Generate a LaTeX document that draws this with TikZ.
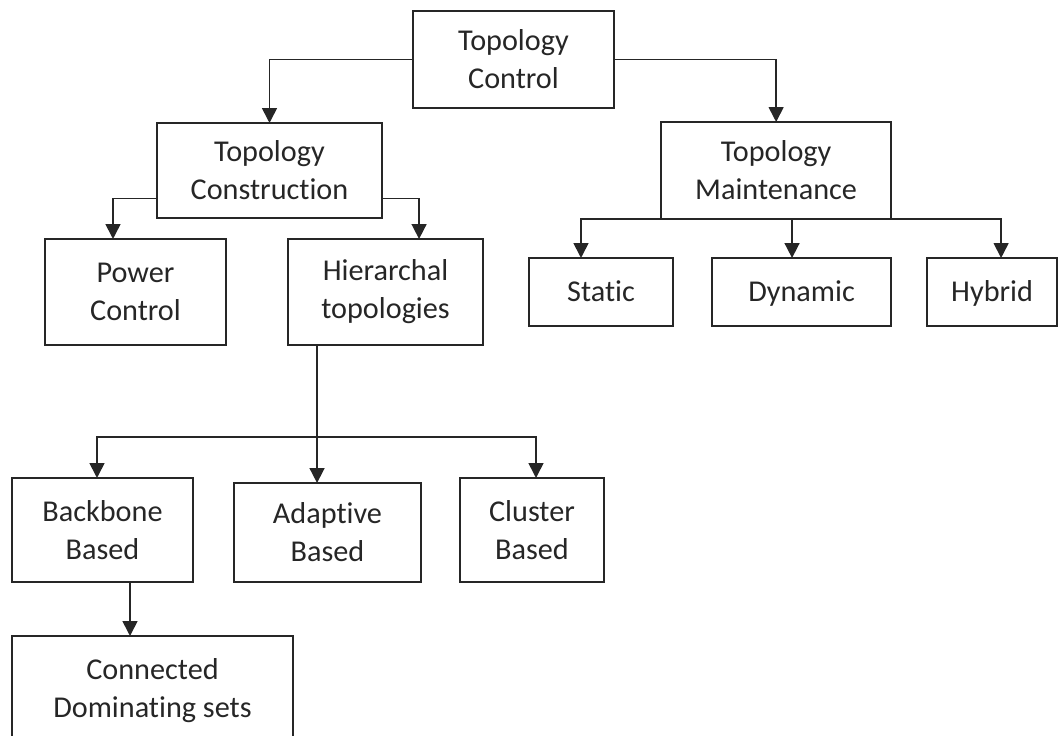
\documentclass[tikz,border=0pt]{standalone}
\usepackage{fontspec}
\setmainfont{Carlito}[Ligatures=CommonOff]
\usetikzlibrary{positioning, arrows.meta}

\begin{document}
\begin{tikzpicture}[x=0.025cm, y=-0.025cm, >={Triangle[width=10.5pt,length=10.5pt]},
        line width=1.2pt, color=black!85,
        block/.style = {draw, rectangle, align=center, inner sep=0pt, outer sep=0pt,
                        font=\fontsize{21.5}{27}\selectfont},
        leaf/.style = {block, text height=14pt, text depth=0.5pt},
        ]
        \useasboundingbox (0,0) rectangle (1060,736);

        \node [block, minimum width=5.025cm, minimum height=2.425cm] (ctrl) at (513.5,59.5) {Topology\\Control};
        \node [block, minimum width=5.625cm, minimum height=2.375cm] (constr) at (269.5,170.5) {Topology\\Construction};
        \node [block, minimum width=5.75cm, minimum height=2.425cm, right=6.975cm of constr] (maint) {Topology\\Maintenance};

        \node [block, minimum width=4.525cm, minimum height=2.65cm] (power) at (135.5,292) {Power\\Control};
        \node [block, minimum width=4.875cm, minimum height=2.65cm, right=1.55cm of power] (hier) {Hierarchal\\topologies};

        \node [leaf, minimum width=3.6cm, minimum height=1.7cm] (static) at (601,292) {Static};
        \node [leaf, minimum width=4.475cm, minimum height=1.7cm, right=0.975cm of static] (dynamic) {Dynamic};
        \node [leaf, minimum width=3.25cm, minimum height=1.7cm, right=0.9cm of dynamic] (hybrid) {Hybrid};

        \node [block, minimum width=4.525cm, minimum height=2.6cm] (backbone) at (102.5,530) {Backbone\\Based};
        \node [block, minimum width=4.675cm, minimum height=2.475cm] (adaptive) at (327.5,532.5) {Adaptive\\Based};
        \node [block, minimum width=3.6cm, minimum height=2.6cm] (cluster) at (532,530) {Cluster\\Based};
        \node [block, minimum width=7.025cm, minimum height=2.75cm] (connected) at (152.5,691) {Connected\\Dominating sets};

        % top level
        \draw [->] (ctrl.west) -| (constr.north);
        \draw [->] (ctrl.east) -| (maint.north);

        % construction branch
        \draw [->] ([yshift=-0.7cm]constr.west) -| ([xshift=-0.5625cm]power.north);
        \draw [->] ([yshift=-0.7cm]constr.east) -| ([xshift=0.8375cm]hier.north);

        % maintenance branch
        \draw [->] (maint.south) -| ([xshift=-0.5cm]static.north);
        \draw [->] ([xshift=-0.2375cm]dynamic.north |- maint.south) -- ([xshift=-0.2375cm]dynamic.north);
        \draw [->] (maint.south) -| ([xshift=0.225cm]hybrid.north);

        % hierarchal branch
        \coordinate (hjoin) at ([xshift=-1.7125cm, yshift=-2.3cm]hier.south);
        \draw (hier.south -| hjoin) -- (hjoin);
        \draw [->] (hjoin) -- (hjoin |- adaptive.north);
        \draw [->] (hjoin) -| ([xshift=-0.1375cm]backbone.north);
        \draw [->] (hjoin) -| ([xshift=0.1cm]cluster.north);

        \draw [->] ([xshift=0.6875cm]backbone.south) -- ([xshift=0.6875cm]backbone.south |- connected.north);
    \end{tikzpicture}
\end{document}
